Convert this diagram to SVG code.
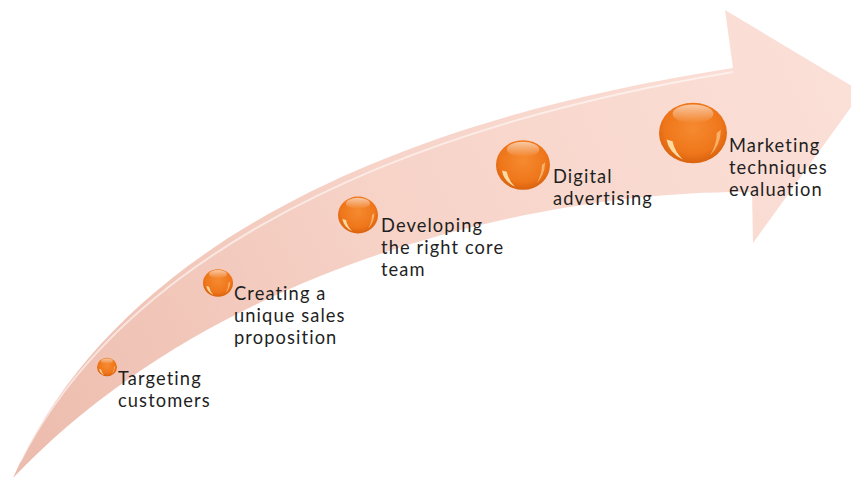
<svg xmlns="http://www.w3.org/2000/svg" width="851" height="479" viewBox="0 0 851 479">
<defs>
<linearGradient id="arrowGrad" x1="13" y1="478" x2="851" y2="90" gradientUnits="userSpaceOnUse">
<stop offset="0" stop-color="#ecbcad"/>
<stop offset="0.5" stop-color="#f7d3c8"/>
<stop offset="1" stop-color="#fbe0d8"/>
</linearGradient>
<radialGradient id="ball" cx="0.5" cy="0.42" r="0.6">
<stop offset="0" stop-color="#f68a30"/>
<stop offset="0.7" stop-color="#ef761a"/>
<stop offset="1" stop-color="#d65f0c"/>
</radialGradient>
<linearGradient id="shine" x1="0" y1="0" x2="0" y2="1">
<stop offset="0" stop-color="#ffffff" stop-opacity="0.6"/>
<stop offset="1" stop-color="#ffffff" stop-opacity="0"/>
</linearGradient>
<g id="sphere">
<ellipse cx="0" cy="0" rx="1" ry="0.92" fill="url(#ball)"/>
<ellipse cx="0" cy="-0.58" rx="0.6" ry="0.28" fill="url(#shine)"/>
<path d="M -0.78,0.2 Q -0.7,0.62 -0.3,0.8 Q -0.55,0.55 -0.6,0.25 Z" fill="#ffe7b0" opacity="0.9"/>
<path d="M 0.82,-0.1 Q 0.8,0.4 0.5,0.68 Q 0.7,0.35 0.7,0 Z" fill="#ffd9a0" opacity="0.6"/>
</g>
</defs>
<style>
.lbl{font-family:Lato,"Open Sans","Liberation Sans",sans-serif;font-size:18.3px;letter-spacing:1.1px;fill:#1f1f1f}
</style>
<g id="connectors">
<path id="arrow" d="M 13,478 C 100,280 330,130 733,68 L 725,10 L 862,92 L 753,243 L 752,192 C 550,190 220,260 13,478 Z" fill="url(#arrowGrad)"/>
<path d="M 20,462 C 110,285 335,138 733,72" fill="none" stroke="#ffffff" stroke-width="2" opacity="0.55"/>
</g>
<g id="node1">
<use href="#sphere" transform="translate(107,367) scale(10,10)"/>
<text class="lbl" x="118" y="385">Targeting</text>
<text class="lbl" x="118" y="407">customers</text>
</g>
<g id="node2">
<use href="#sphere" transform="translate(218,283) scale(15,15)"/>
<text class="lbl" x="234" y="300">Creating a</text>
<text class="lbl" x="234" y="322">unique sales</text>
<text class="lbl" x="234" y="344">proposition</text>
</g>
<g id="node3">
<use href="#sphere" transform="translate(358,215) scale(20,20)"/>
<text class="lbl" x="381" y="232">Developing</text>
<text class="lbl" x="381" y="254">the right core</text>
<text class="lbl" x="381" y="276">team</text>
</g>
<g id="node4">
<use href="#sphere" transform="translate(523,165) scale(27,27)"/>
<text class="lbl" x="553" y="183">Digital</text>
<text class="lbl" x="553" y="205">advertising</text>
</g>
<g id="node5">
<use href="#sphere" transform="translate(693,133) scale(34,33)"/>
<text class="lbl" x="729" y="152">Marketing</text>
<text class="lbl" x="729" y="174">techniques</text>
<text class="lbl" x="729" y="196">evaluation</text>
</g>
</svg>
